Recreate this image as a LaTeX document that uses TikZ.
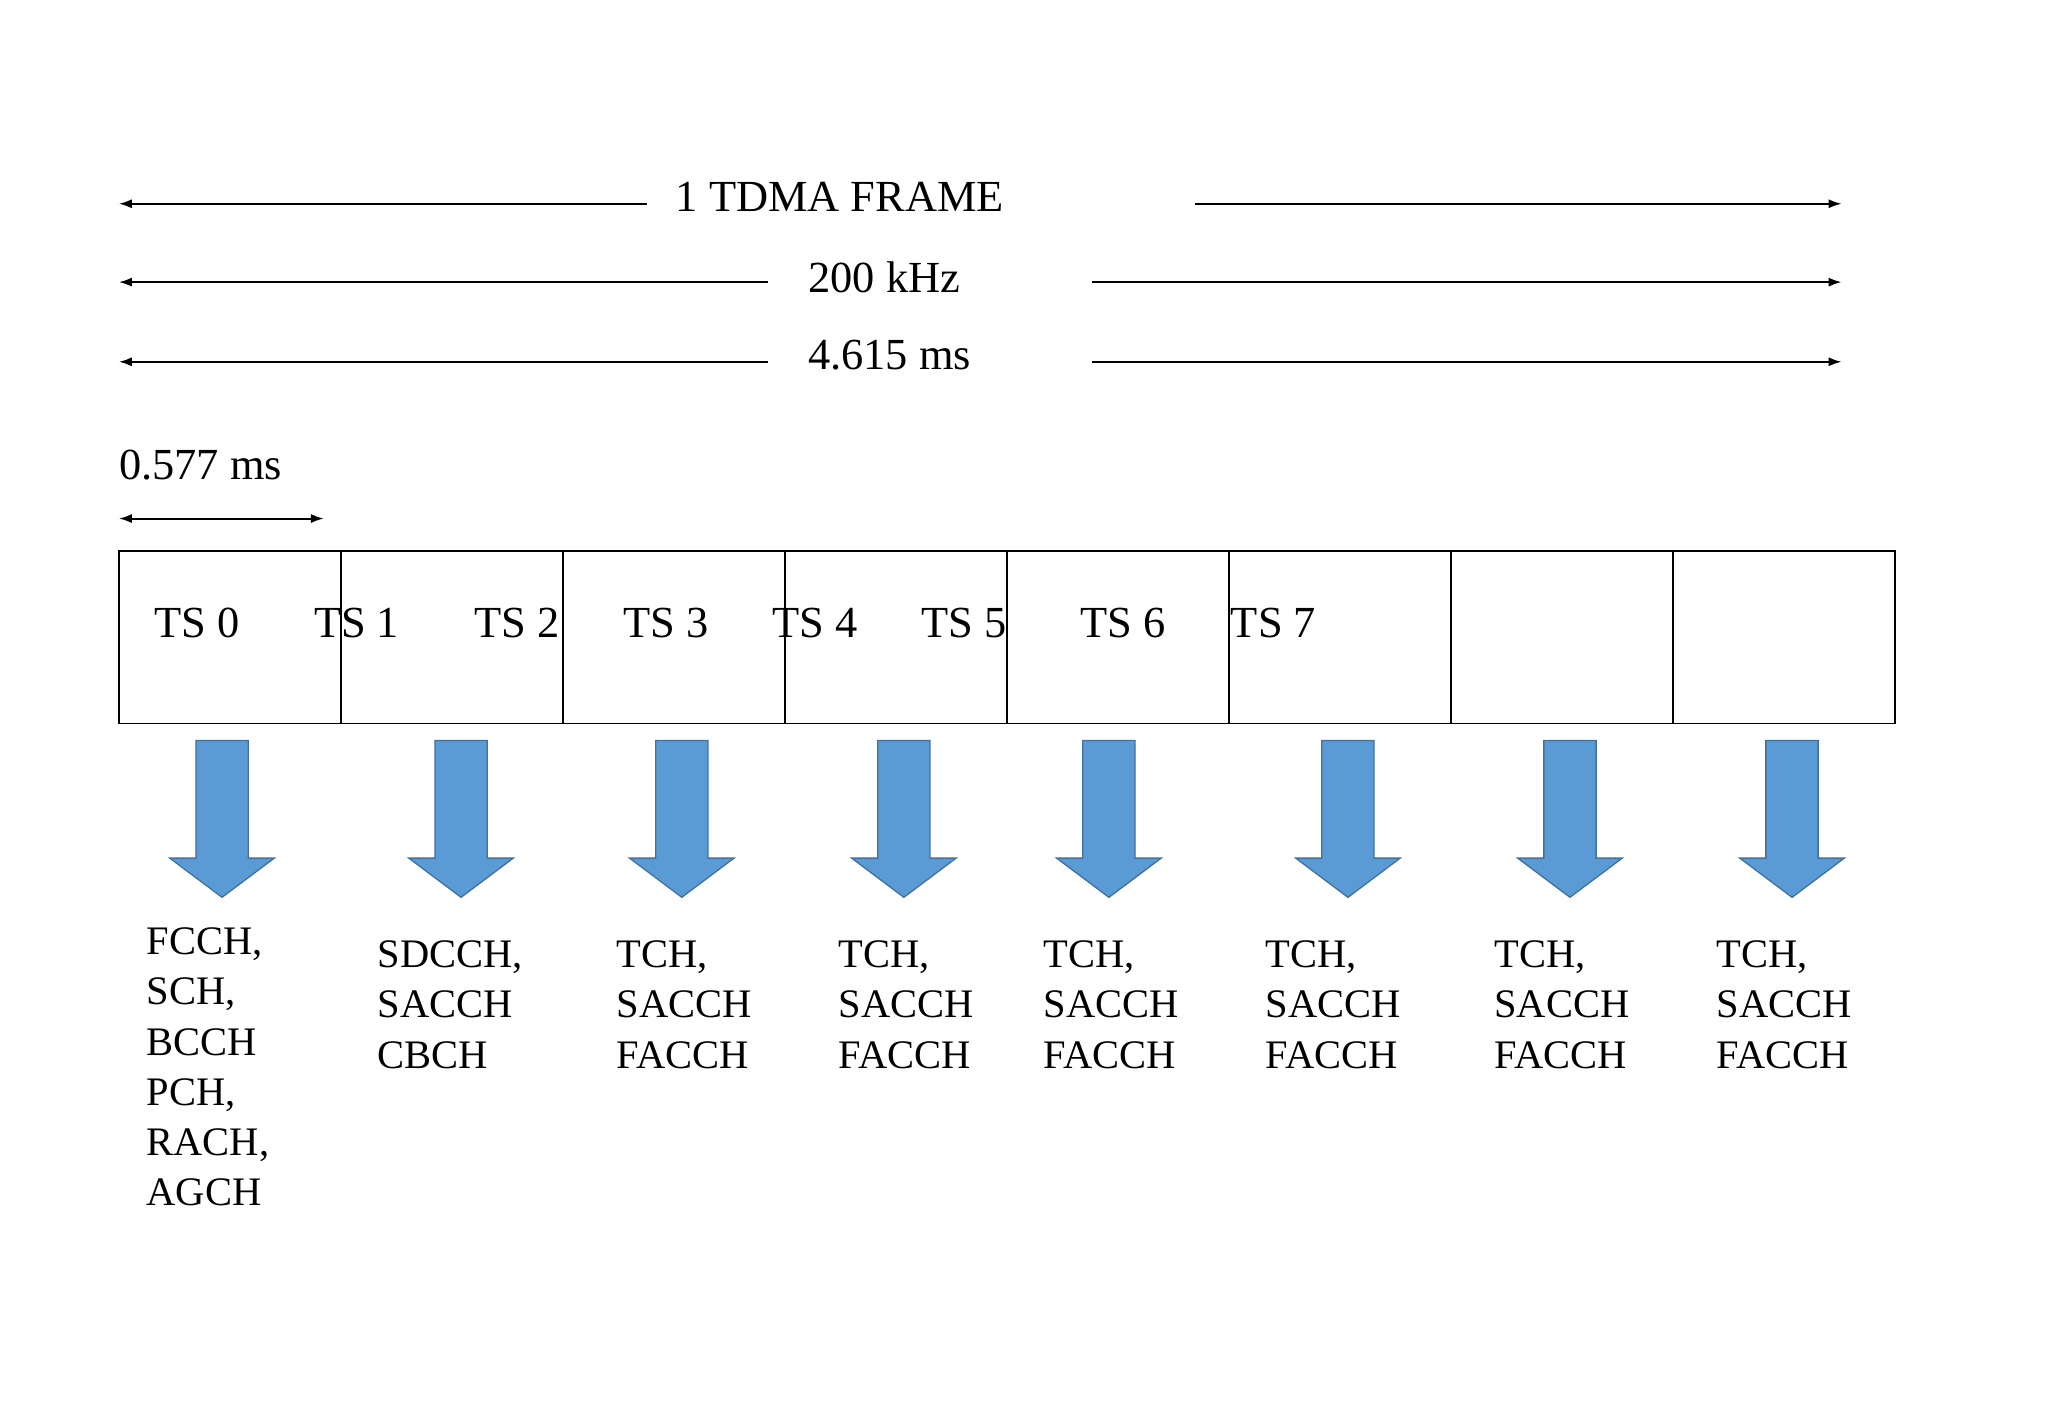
\documentclass[tikz,border=0pt]{standalone}
\usepackage{fontspec}
\setmainfont{Liberation Serif}
\usetikzlibrary{arrows.meta}
\definecolor{barrow}{HTML}{5B9BD5}
\definecolor{bedge}{HTML}{41719C}
\begin{document}
\begin{tikzpicture}[x=1pt,y=-1pt,
  big/.style={font=\fontsize{34}{40}\selectfont,inner sep=0pt},
  lab/.style={font=\fontsize{31}{38.5}\selectfont,inner sep=0pt,align=left,anchor=north west},
  dim/.style={line width=1.5pt,{Latex[length=10pt,width=7pt]}-{Latex[length=10pt,width=7pt]}},
  half/.style={line width=1.5pt,-{Latex[length=10pt,width=7pt]}},
  cell/.style={draw,line width=1.2pt},
  barr/.style={fill=barrow,draw=bedge,line width=1pt}]
\useasboundingbox (0,0) rectangle (1568,1086);
% top dimension lines
\node[big] (t1) at (643,151) {1 TDMA FRAME};
\coordinate (a1l) at (91,156); \coordinate (a1m) at (495,156);
\coordinate (a1n) at (915,156); \coordinate (a1r) at (1410,156);
\draw[half] (a1m) -- (a1l); \draw[half] (a1n) -- (a1r);
\node[big] (t2) at (677,212) {200 kHz};
\coordinate (a2l) at (91,216); \coordinate (a2m) at (588,216);
\coordinate (a2n) at (836,216); \coordinate (a2r) at (1410,216);
\draw[half] (a2m) -- (a2l); \draw[half] (a2n) -- (a2r);
\node[big] (t3) at (681,272) {4.615 ms};
\coordinate (a3l) at (91,277); \coordinate (a3m) at (588,277);
\coordinate (a3n) at (836,277); \coordinate (a3r) at (1410,277);
\draw[half] (a3m) -- (a3l); \draw[half] (a3n) -- (a3r);
\node[big,anchor=west] (t4) at (91,356) {0.577 ms};
\coordinate (a4l) at (91,397); \coordinate (a4r) at (248,397);
\draw[dim] (a4l) -- (a4r);
% cells
\foreach \i/\x in {0/91,1/261,2/431,3/601,4/771,5/941,6/1111,7/1281}{
  \draw[cell] (\x,422) rectangle ++(170,132);
}
\foreach \n/\x in {0/151,1/273,2/396,3/510,4/624,5/738,6/860,7/975}{
  \node[big] (ts\n) at (\x,477) {TS \n};
}
% block arrows
\foreach \c in {170,353,522,692,849,1032,1202,1372}{
  \draw[barr] (\c-20,567) -- (\c+20,567) -- (\c+20,657) -- (\c+40,657) -- (\c,687)
     -- (\c-40,657) -- (\c-20,657) -- cycle;
}
% labels
\node[lab] (l0) at (112,710) {FCCH,\\SCH,\\BCCH\\PCH,\\RACH,\\AGCH};
\node[lab] (l1) at (289,720) {SDCCH,\\SACCH\\CBCH};
\foreach \k/\x in {2/472,3/642,4/799,5/969,6/1144,7/1314}{
  \node[lab] (l\k) at (\x,720) {TCH,\\SACCH\\FACCH};
}
\end{tikzpicture}
\end{document}
